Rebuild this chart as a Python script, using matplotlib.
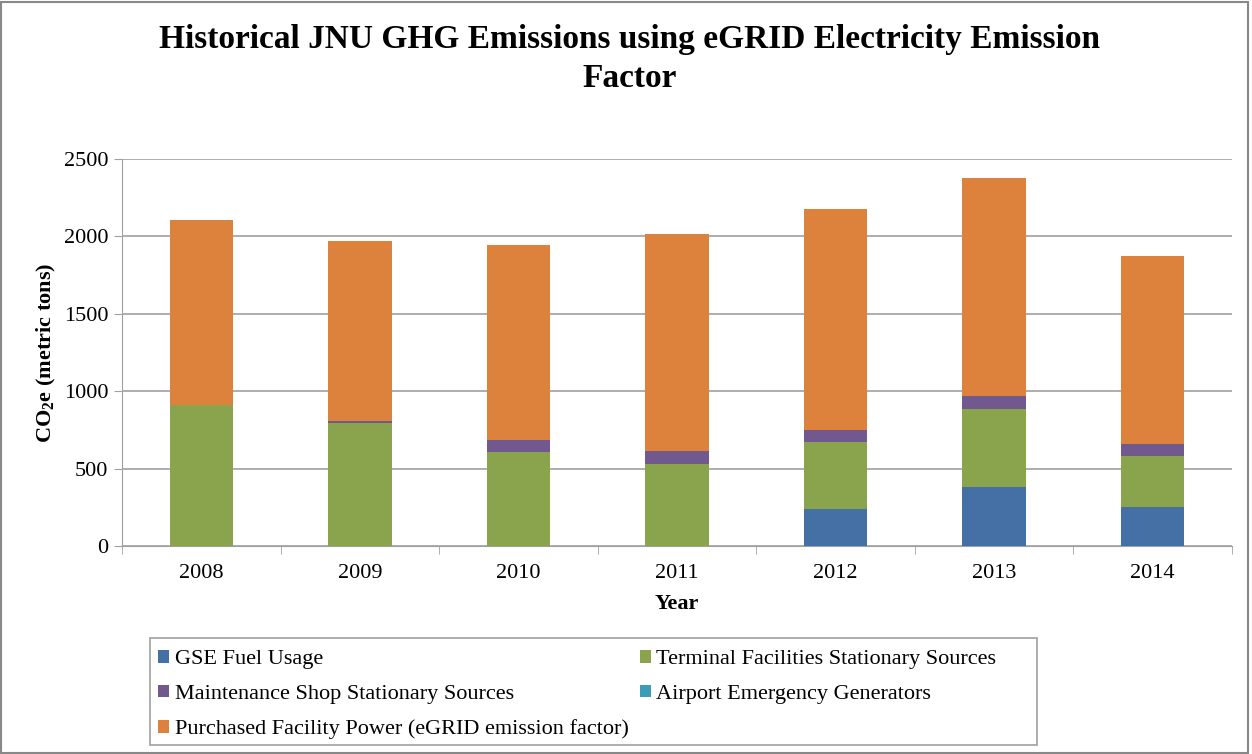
import numpy as np
import matplotlib
matplotlib.use('Agg')
import matplotlib.pyplot as plt
from matplotlib.patches import Rectangle

plt.rcParams['font.family'] = ['Liberation Serif', 'DejaVu Serif']
plt.rcParams['mathtext.fontset'] = 'custom'
plt.rcParams['mathtext.rm'] = 'Liberation Serif'
plt.rcParams['mathtext.bf'] = 'Liberation Serif:bold'

# data (metric tons CO2e)
years = ['2008', '2009', '2010', '2011', '2012', '2013', '2014']
gse_fuel = [0, 0, 0, 0, 239, 381, 252]
terminal = [911, 795, 607, 530, 433, 504, 329]
maint_shop = [0, 12, 78, 84, 77, 84, 78]
emergency_gen = [0, 0, 0, 0, 0, 0, 0]
purchased = [1195, 1163, 1259, 1401, 1428, 1408, 1214]

series = [
    ('GSE Fuel Usage', gse_fuel, '#4470A5'),
    ('Terminal Facilities Stationary Sources', terminal, '#8AA44E'),
    ('Maintenance Shop Stationary Sources', maint_shop, '#71588F'),
    ('Airport Emergency Generators', emergency_gen, '#3A9CB5'),
    ('Purchased Facility Power (eGRID emission factor)', purchased, '#DC823C'),
]

W, H = 1252, 754
fig = plt.figure(figsize=(W / 100, H / 100), dpi=100)
ax = fig.add_axes([122 / W, 1 - 546 / H, 1110 / W, 387 / H])

x = np.arange(len(years))
bottom = np.zeros(len(years))
handles = {}
for name, vals, col in series:
    vals = np.array(vals, dtype=float)
    b = ax.bar(x, vals, 0.4, bottom=bottom, color=col, label=name, zorder=3)
    handles[name] = b
    bottom += vals

ax.set_xlim(-0.5, len(years) - 0.5)
ax.set_ylim(0, 2500)
ax.set_yticks(np.arange(0, 2501, 500))
ax.set_xticks(x)
ax.set_xticklabels(years)
ax.set_xticks(np.arange(-0.5, len(years), 1), minor=True)
ax.tick_params(axis='x', which='major', length=0, labelsize=16, pad=13)
ax.tick_params(axis='x', which='minor', length=6, color='#A0A0A0')
ax.tick_params(axis='y', length=6, color='#A0A0A0', labelsize=16, pad=4)
ax.grid(axis='y', color='#A0A0A0', linewidth=1.2, zorder=0)
for s in ['top', 'right']:
    ax.spines[s].set_visible(False)
for s in ['left', 'bottom']:
    ax.spines[s].set_color('#A0A0A0')

ax.set_xlabel('Year', fontsize=16, fontweight='bold', labelpad=8)
ax.set_ylabel(r'CO$_\mathbf{2}$e (metric tons)', fontsize=16, fontweight='bold', labelpad=4)

fig.text(0.503, 1 - 59 / H, 'Historical JNU GHG Emissions using eGRID Electricity Emission\nFactor',
         ha='center', va='center', fontsize=24, fontweight='bold', linespacing=1.3)

# legend: Excel fills row-wise, matplotlib column-wise
order = ['GSE Fuel Usage', 'Maintenance Shop Stationary Sources',
         'Purchased Facility Power (eGRID emission factor)',
         'Terminal Facilities Stationary Sources', 'Airport Emergency Generators']
fig.legend([handles[n] for n in order], order, ncol=2, loc='upper left',
           bbox_to_anchor=(158 / W, 1 - 650 / H), fontsize=16, frameon=False,
           handlelength=0.5, handleheight=0.5, handletextpad=0.25,
           columnspacing=0.5, labelspacing=0.7, borderpad=0, borderaxespad=0)
fig.patches.append(Rectangle((150 / W, 1 - 745 / H), 887 / W, 107 / H, transform=fig.transFigure,
                             fill=False, edgecolor='#A0A0A0', linewidth=1.2))

fig.patches.append(Rectangle((0.001, 0.001), 0.996, 0.997, transform=fig.transFigure,
                             fill=False, edgecolor='#888888', linewidth=1.5))

fig.savefig('out.png', dpi=100)
